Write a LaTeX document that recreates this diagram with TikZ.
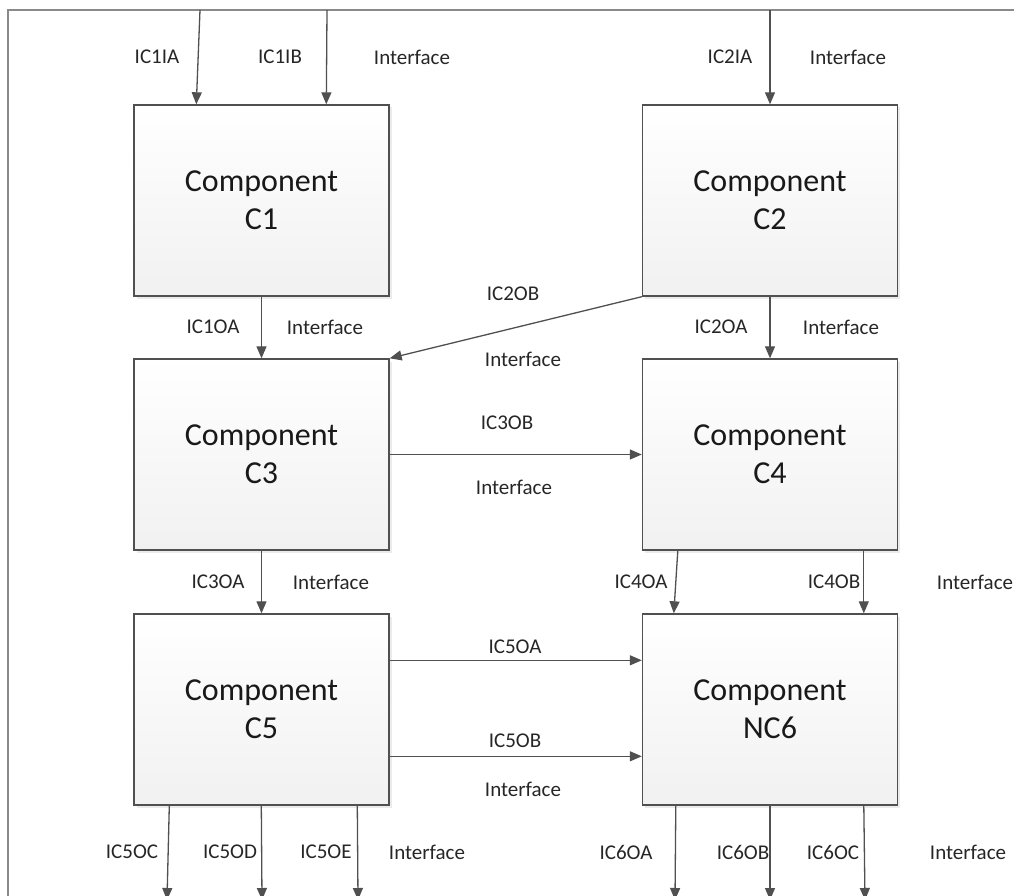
\documentclass[tikz,border=0pt]{standalone}
\usepackage{fontspec}
\setmainfont{Carlito}
\usetikzlibrary{arrows.meta,shadows}
\definecolor{ln}{HTML}{505050}
\definecolor{bxbot}{HTML}{F1F1F1}
\definecolor{fr}{HTML}{8A8A8A}
\tikzset{
 comp/.style={draw=ln, line width=1.4pt, top color=white, bottom color=bxbot,
   minimum width=255pt, minimum height=191pt, inner sep=0pt, align=center,
   font=\fontsize{32}{38}\selectfont, text=black!90,
   drop shadow={shadow xshift=2.5pt, shadow yshift=-2.5pt, fill=black, opacity=0.08}},
 lbl/.style={font=\fontsize{21}{24}\selectfont, text=black!85, inner sep=0pt},
 conn/.style={draw=ln, line width=1.3pt, -{Triangle[width=10pt,length=12pt]}},
 frameline/.style={draw=fr, line width=1.3pt}
}
\begin{document}
\begin{tikzpicture}[x=1pt,y=-1pt]
\useasboundingbox (0,0) rectangle (1014,896);
% frame
\coordinate (f0) at (8,10);
\coordinate (f1) at (1016,10);
\coordinate (f2) at (8,900);
\draw[frameline] (f1) -- (f0) -- (f2);
% components
\node[comp] (C1) at (261.5,200.5) {Component\\C1};
\node[comp] (C2) at (770,200.5) {Component\\C2};
\node[comp] (C3) at (261.5,454.5) {Component\\C3};
\node[comp] (C4) at (770,454.5) {Component\\C4};
\node[comp] (C5) at (261.5,709.5) {Component\\C5};
\node[comp] (C6) at (770,709.5) {Component\\NC6};
% free ends
\coordinate (t1a) at (200,10);
\coordinate (t1b) at (327,10);
\coordinate (t2a) at (770,10);
\coordinate (b5c) at (167,900);
\coordinate (b5d) at (262,900);
\coordinate (b5e) at (358,900);
\coordinate (b6a) at (675,900);
\coordinate (b6b) at (770,900);
\coordinate (b6c) at (865,900);
% connectors
\draw[conn] (t1a) -- ([xshift=63pt]C1.north west);
\draw[conn] (t1b) -- ([xshift=193pt]C1.north west);
\draw[conn] (t2a) -- (C2.north);
\draw[conn] (C1.south) -- (C3.north);
\draw[conn] (C2.south west) -- (C3.north east);
\draw[conn] (C2.south) -- (C4.north);
\draw[conn] (C3.east) -- (C4.west);
\draw[conn] (C3.south) -- (C5.north);
\draw[conn] ([xshift=36pt]C4.south west) -- ([xshift=32pt]C6.north west);
\draw[conn] ([xshift=222pt]C4.south west) -- ([xshift=222pt]C6.north west);
\draw[conn] ([yshift=-47pt]C5.north east) -- ([yshift=-47pt]C6.north west);
\draw[conn] ([yshift=-143pt]C5.north east) -- ([yshift=-143pt]C6.north west);
\draw[conn] ([xshift=36pt]C5.south west) -- (b5c);
\draw[conn] ([xshift=128pt]C5.south west) -- (b5d);
\draw[conn] ([xshift=224pt]C5.south west) -- (b5e);
\draw[conn] ([xshift=34pt]C6.south west) -- (b6a);
\draw[conn] (C6.south) -- (b6b);
\draw[conn] ([xshift=222pt]C6.south west) -- (b6c);
% labels
\node[lbl] (l1) at (157,57) {IC1IA};
\node[lbl] (l2) at (280,57) {IC1IB};
\node[lbl] (l3) at (412,57) {Interface};
\node[lbl] (l4) at (730,57) {IC2IA};
\node[lbl] (l5) at (848,57) {Interface};
\node[lbl] (l6) at (213,327) {IC1OA};
\node[lbl] (l7) at (325,327) {Interface};
\node[lbl] (l8) at (513,294) {IC2OB};
\node[lbl] (l9) at (523,359) {Interface};
\node[lbl] (l10) at (721,327) {IC2OA};
\node[lbl] (l11) at (841,327) {Interface};
\node[lbl] (l12) at (507,423) {IC3OB};
\node[lbl] (l13) at (514,487) {Interface};
\node[lbl] (l14) at (218,582) {IC3OA};
\node[lbl] (l15) at (331,582) {Interface};
\node[lbl] (l16) at (641,582) {IC4OA};
\node[lbl] (l17) at (834,582) {IC4OB};
\node[lbl] (l18) at (975,582) {Interface};
\node[lbl] (l19) at (515,647) {IC5OA};
\node[lbl] (l20) at (515,741) {IC5OB};
\node[lbl] (l21) at (523,789) {Interface};
\node[lbl] (l22) at (132,852) {IC5OC};
\node[lbl] (l23) at (230,852) {IC5OD};
\node[lbl] (l24) at (326,852) {IC5OE};
\node[lbl] (l25) at (427,852) {Interface};
\node[lbl] (l26) at (626,852) {IC6OA};
\node[lbl] (l27) at (743,852) {IC6OB};
\node[lbl] (l28) at (833,852) {IC6OC};
\node[lbl] (l29) at (968,852) {Interface};
\end{tikzpicture}
\end{document}
